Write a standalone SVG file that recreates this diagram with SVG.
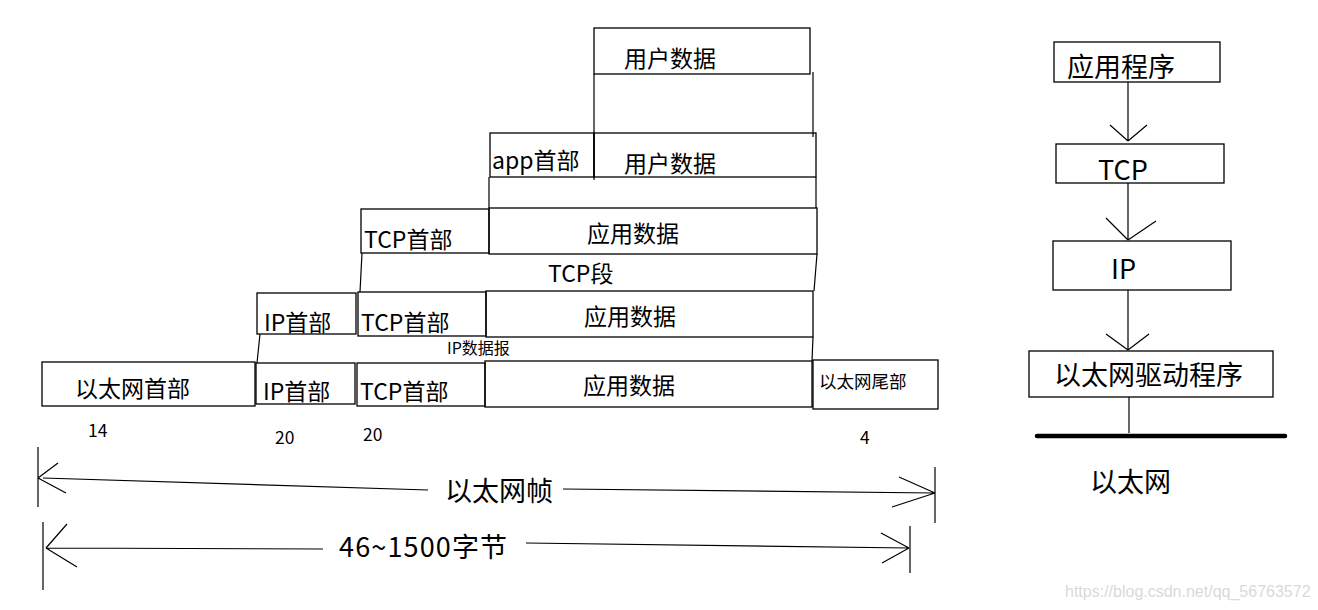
<svg xmlns="http://www.w3.org/2000/svg" width="1318" height="610" viewBox="0 0 1318 610">
<style>
.box{fill:none;stroke:#000;stroke-width:1.3}
.ln{fill:none;stroke:#000;stroke-width:1.2}
.bar{fill:none;stroke:#000;stroke-width:4.5;stroke-linecap:round}
text{font-family:"Noto Sans CJK SC","Microsoft YaHei",sans-serif;fill:#000}
.t22{font-size:23px}
.t26{font-size:27px}
.t17{font-size:17.5px}
.t16{font-size:16px}
.wm{font-family:"Liberation Sans",Arial,sans-serif;font-size:16px;fill:#d9d9d9}
</style>
<rect width="1318" height="610" fill="#fff"/>

<!-- Row 1 -->
<g id="row1-userdata"><rect class="box" x="594" y="28" width="216" height="46"/><text class="t22" x="624" y="67">用户数据</text></g>

<!-- Row 2 -->
<g id="row2-apphdr"><rect class="box" x="490" y="133" width="104" height="44"/><text class="t22" x="492" y="169">app首部</text></g>
<g id="row2-userdata"><rect class="box" x="594" y="133" width="222" height="44"/><text class="t22" x="624" y="172">用户数据</text></g>

<!-- Row 3 -->
<g id="row3-tcphdr"><rect class="box" x="361" y="209" width="128" height="44"/><text class="t22" x="364" y="248">TCP首部</text></g>
<g id="row3-appdata"><rect class="box" x="489" y="208" width="328" height="46"/><text class="t22" x="587" y="242">应用数据</text></g>

<!-- Row 4 -->
<g id="row4-iphdr"><rect class="box" x="257" y="293" width="99" height="41"/><text class="t22" x="264" y="331">IP首部</text></g>
<g id="row4-tcphdr"><rect class="box" x="358" y="292" width="128" height="44"/><text class="t22" x="361" y="331">TCP首部</text></g>
<g id="row4-appdata"><rect class="box" x="486" y="291" width="327" height="46"/><text class="t22" x="584" y="325">应用数据</text></g>

<!-- Row 5 -->
<g id="row5-ethhdr"><rect class="box" x="42" y="362" width="213" height="44"/><text class="t22" x="75" y="397">以太网首部</text></g>
<g id="row5-iphdr"><rect class="box" x="256" y="363" width="99" height="41"/><text class="t22" x="263" y="400">IP首部</text></g>
<g id="row5-tcphdr"><rect class="box" x="357" y="363" width="128" height="43"/><text class="t22" x="360" y="400">TCP首部</text></g>
<g id="row5-appdata"><rect class="box" x="485" y="361" width="327" height="46"/><text class="t22" x="583" y="394">应用数据</text></g>
<g id="row5-ethtrailer"><rect class="box" x="813" y="360" width="125" height="49"/><text class="t17" x="819" y="388">以太网尾部</text></g>

<!-- Labels -->
<g id="label-tcpseg"><text class="t22" x="548" y="282">TCP段</text></g>
<g id="label-ipdgram"><text class="t16" x="447" y="354">IP数据报</text></g>
<g id="sizes">
<text class="t17" x="88" y="437">14</text>
<text class="t17" x="275" y="444">20</text>
<text class="t17" x="363" y="441">20</text>
<text class="t17" x="860" y="444">4</text>
</g>
<g id="label-ethframe"><text class="t26" x="445" y="501">以太网帧</text></g>
<g id="label-bytes"><text class="t26" x="339" y="557" textLength="168" lengthAdjust="spacing">46~1500字节</text></g>

<!-- Right stack -->
<g id="stack-app"><rect class="box" x="1054" y="42" width="166" height="40"/><text class="t26" x="1067" y="77">应用程序</text></g>
<g id="stack-tcp"><rect class="box" x="1056" y="144" width="168" height="39"/><text class="t26" x="1098" y="180">TCP</text></g>
<g id="stack-ip"><rect class="box" x="1053" y="241" width="178" height="49"/><text class="t26" x="1111" y="279">IP</text></g>
<g id="stack-eth"><rect class="box" x="1029" y="351" width="244" height="46"/><text class="t26" x="1054" y="385">以太网驱动程序</text></g>
<g id="ethernet"><line class="bar" x1="1037" y1="436" x2="1285" y2="436"/><text class="t26" x="1090" y="492">以太网</text></g>

<!-- Connectors -->
<g id="connectors">
<path class="ln" d="M594 74V180M813 72V137"/>
<path class="ln" d="M489 177V208M816 177V208"/>
<path class="ln" d="M362 253L360 292M817 254L814 291"/>
<path class="ln" d="M260 334L257 363M813 337L812 361"/>
<!-- ethernet frame dimension -->
<path class="ln" d="M38 447V507M38 478L58 463M38 478L66 493M43 478L428 490"/>
<path class="ln" d="M563 489L935 493M935 467V523M935 493L899 477M935 493L892 507"/>
<!-- 46~1500 dimension -->
<path class="ln" d="M43 522V590M46 548L67 524M46 548L77 567M46 548L323 549"/>
<path class="ln" d="M526 543L909 548M910 526V573M909 548L881 533M909 548L882 563"/>
<!-- stack arrows -->
<path class="ln" d="M1128 82V141M1128 141L1110 125M1128 141L1147 125"/>
<path class="ln" d="M1128 183V240M1128 240L1106 218M1128 240L1156 221"/>
<path class="ln" d="M1128 290V350M1128 350L1106 334M1128 350L1149 334"/>
<path class="ln" d="M1129 397V433"/>
</g>

<text class="wm" x="1065" y="597">https://blog.csdn.net/qq_56763572</text>
</svg>
